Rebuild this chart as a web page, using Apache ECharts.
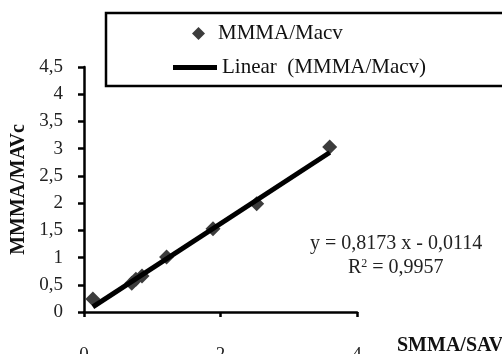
<!DOCTYPE html>
<html><head><meta charset="utf-8">
<script src="https://cdn.jsdelivr.net/npm/echarts@6/dist/echarts.min.js"></script>
<style>html,body{margin:0;padding:0;background:#fff}#c{width:502px;height:354px}</style>
</head><body><div id="c"></div>
<script>
const xValues = [0.13, 0.70, 0.76, 0.85, 1.21, 1.89, 2.53, 3.60];
const yValues = [0.24, 0.53, 0.60, 0.66, 1.01, 1.53, 1.99, 3.03];
const trendX = [0.13, 3.60];
const trendY = [0.095, 2.93];
const seriesName = 'MMMA/Macv';
const trendName = 'Linear  (MMMA/Macv)';
const equationText = 'y = 0,8173 x - 0,0114';
const r2Text = 'R{sup|2} = 0,9957';
const xName = 'SMMA/SAVc';
const yName = 'MMMA/MAVc';

const FONT = 'Liberation Serif';
const chart = echarts.init(document.getElementById('c'), null, {renderer: 'canvas'});
const fmt = v => String(v).replace('.', ',');
chart.setOption({
  animation: false,
  grid: {left: 84, right: 145, top: 67, bottom: 42, containLabel: false, outerBoundsMode: 'none'},
  xAxis: {
    type: 'value', min: 0, max: 4, interval: 2,
    splitLine: {show: false},
    axisLine: {lineStyle: {color: '#000', width: 2.5}},
    axisTick: {length: 5, lineStyle: {color: '#000', width: 2.5}},
    axisLabel: {margin: 34, color: '#222', fontFamily: FONT, fontSize: 19, formatter: fmt}
  },
  yAxis: {
    type: 'value', min: 0, max: 4.5, interval: 0.5,
    splitLine: {show: false},
    axisLine: {show: true, lineStyle: {color: '#000', width: 2.5}},
    axisTick: {show: true, length: 6, lineStyle: {color: '#000', width: 2.5}},
    axisLabel: {margin: 21, color: '#222', fontFamily: FONT, fontSize: 19, formatter: fmt},
    name: yName, nameLocation: 'middle', nameGap: 54, nameRotate: 90,
    nameTextStyle: {color: '#111', fontFamily: FONT, fontSize: 20, fontWeight: 'bold'}
  },
  legend: [
    {data: [{name: seriesName, icon: 'diamond'}], left: 187, top: 18, itemWidth: 13, itemHeight: 13,
     textStyle: {fontFamily: FONT, fontSize: 21, color: '#111', padding: [0, 0, 0, 8]}},
    {data: [{name: trendName, icon: 'rect'}], left: 168, top: 52, itemWidth: 44, itemHeight: 5,
     textStyle: {fontFamily: FONT, fontSize: 21, color: '#111', padding: [0, 0, 0, 0]}}
  ],
  graphic: [
    {type: 'rect', shape: {x: 106, y: 13, width: 420, height: 73},
     style: {fill: 'none', stroke: '#000', lineWidth: 2.5}, z: 100},
    {type: 'text', left: 397, top: 336,
     style: {text: xName, fontFamily: FONT, fontSize: 20, fontWeight: 'bold', fill: '#111'}},
    {type: 'text', left: 310, top: 234,
     style: {text: equationText, fontFamily: FONT, fontSize: 20, fill: '#222'}},
    {type: 'text', left: 348, top: 258,
     style: {text: r2Text, fontFamily: FONT, fontSize: 20, fill: '#222',
       rich: {sup: {fontSize: 12, verticalAlign: 'top', padding: [0, 0, 8, 0], fontFamily: FONT, fill: '#222'}}}}
  ],
  series: [
    {name: seriesName, type: 'scatter', symbol: 'diamond', symbolSize: 15,
     itemStyle: {color: '#3c3c3c', opacity: 1},
     data: xValues.map((x, i) => [x, yValues[i]]), z: 2},
    {name: trendName, type: 'line', showSymbol: false, symbol: 'none',
     lineStyle: {color: '#000', width: 5}, itemStyle: {color: '#000'},
     data: trendX.map((x, i) => [x, trendY[i]]), z: 3}
  ]
});
</script></body></html>
